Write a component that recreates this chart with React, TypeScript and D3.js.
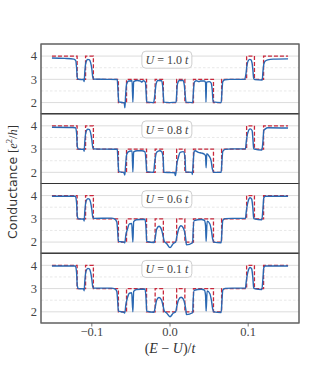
import React from 'react';
import * as d3 from 'd3';

const W = 332;
const H = 369;

const X_TICKS = [-0.1, 0.0, 0.1];
const X_TICK_LABELS = ['\u22120.1', '0.0', '0.1'];
const Y_TICKS = [2, 3, 4];
const Y_MINOR = [2.5, 3.5];
const U_LABELS = ['1.0', '0.8', '0.6', '0.1'];

// ideal (dashed red) step conductance: breakpoints and levels
const RED_X = [-0.151, -0.1188, -0.108, -0.098, -0.066, -0.0556, -0.030, -0.019, -0.0085, 0.0085, 0.019, 0.030, 0.0556, 0.066, 0.098, 0.108, 0.1197, 0.151];
const RED_G = [4, 3, 4, 3, 2, 3, 2, 3, 2, 3, 2, 3, 2, 3, 4, 3, 4];

const BLUE_U10: [number, number][] = [
  [-0.151, 3.92], [-0.135, 3.9], [-0.123, 3.87], [-0.1205, 3.8], [-0.1195, 3.5], [-0.1185, 3.05], [-0.117, 3.0],
  [-0.1105, 2.99], [-0.1098, 2.9], [-0.109, 3.3], [-0.108, 3.65], [-0.1065, 3.82], [-0.105, 3.86], [-0.103, 3.84],
  [-0.1015, 3.72], [-0.1, 3.45], [-0.0988, 3.1], [-0.0975, 3.01], [-0.08, 3.0], [-0.0675, 2.99], [-0.0665, 2.5],
  [-0.0655, 2.03], [-0.06, 2.0], [-0.0585, 1.98], [-0.0577, 1.78], [-0.0568, 2.3], [-0.0555, 2.8], [-0.053, 2.93],
  [-0.0485, 2.94], [-0.0475, 2.02], [-0.0465, 2.9], [-0.042, 2.95], [-0.0375, 2.92], [-0.0365, 2.88], [-0.034, 2.94],
  [-0.0315, 2.88], [-0.0305, 2.4], [-0.0298, 2.03], [-0.021, 2.0], [-0.0195, 2.3], [-0.0178, 2.8], [-0.0155, 2.95],
  [-0.011, 2.94], [-0.0095, 2.75], [-0.0085, 2.3], [-0.0078, 2.02], [0.0, 2.0], [0.0078, 2.02], [0.0085, 2.35],
  [0.0095, 2.8], [0.012, 2.95], [0.0165, 2.95], [0.0183, 2.75], [0.0195, 2.3], [0.0205, 2.02], [0.029, 2.0],
  [0.03, 2.5], [0.0312, 2.88], [0.0335, 2.94], [0.037, 2.9], [0.039, 2.93], [0.044, 2.93], [0.0455, 2.85],
  [0.046, 2.02], [0.0468, 2.88], [0.05, 2.9], [0.0525, 2.85], [0.054, 2.55], [0.0552, 2.03], [0.0655, 2.0],
  [0.0665, 2.5], [0.0675, 2.9], [0.07, 2.98], [0.076, 3.0], [0.0955, 3.0], [0.097, 3.2], [0.0985, 3.6],
  [0.1, 3.8], [0.102, 3.86], [0.1035, 3.84], [0.105, 3.7], [0.106, 3.4], [0.107, 3.05], [0.1085, 2.99],
  [0.118, 2.97], [0.1188, 3.3], [0.12, 3.65], [0.1215, 3.78], [0.125, 3.84], [0.132, 3.87], [0.151, 3.88],
];

const BLUE_U08: [number, number][] = [
  [-0.151, 3.94], [-0.125, 3.93], [-0.121, 3.92], [-0.1195, 3.7], [-0.1185, 3.1], [-0.117, 3.0], [-0.1105, 2.99],
  [-0.1098, 2.91], [-0.109, 3.3], [-0.108, 3.65], [-0.1065, 3.82], [-0.105, 3.86], [-0.103, 3.84], [-0.1015, 3.7],
  [-0.1, 3.4], [-0.0988, 3.08], [-0.0975, 3.01], [-0.0675, 2.99], [-0.0665, 2.5], [-0.0655, 2.03], [-0.059, 1.99],
  [-0.0578, 1.88], [-0.0568, 2.3], [-0.0555, 2.75], [-0.0535, 2.88], [-0.05, 2.92], [-0.0485, 2.92], [-0.0475, 2.02],
  [-0.0465, 2.88], [-0.042, 2.93], [-0.036, 2.93], [-0.032, 2.88], [-0.0305, 2.4], [-0.0298, 2.03], [-0.021, 2.0],
  [-0.0195, 2.45], [-0.0171, 2.86], [-0.013, 2.93], [-0.0105, 2.88], [-0.0088, 2.6], [-0.0078, 2.0], [0.0, 1.99],
  [0.006, 1.98], [0.0068, 1.86], [0.0076, 1.97], [0.0085, 2.3], [0.0107, 2.64], [0.013, 2.86], [0.0171, 2.89],
  [0.0192, 2.64], [0.0201, 2.02], [0.028, 2.0], [0.0286, 1.91], [0.0295, 2.35], [0.031, 2.9], [0.0321, 2.93],
  [0.0363, 2.86], [0.0406, 2.83], [0.044, 2.78], [0.0455, 2.7], [0.0462, 2.2], [0.047, 2.8], [0.05, 2.7],
  [0.0526, 2.49], [0.0543, 2.13], [0.0556, 2.0], [0.0654, 2.0], [0.0665, 2.5], [0.0675, 2.9], [0.0705, 2.99],
  [0.079, 3.01], [0.0965, 3.01], [0.0975, 3.3], [0.0995, 3.7], [0.1025, 3.87], [0.105, 3.8], [0.106, 3.45],
  [0.107, 3.04], [0.108, 3.0], [0.1175, 2.96], [0.1188, 3.3], [0.12, 3.8], [0.122, 3.87], [0.125, 3.92], [0.151, 3.91],
];

const BLUE_U06: [number, number][] = [
  [-0.151, 3.97], [-0.121, 3.97], [-0.1195, 3.7], [-0.1185, 3.1], [-0.117, 3.0], [-0.1105, 2.99], [-0.1098, 2.91],
  [-0.109, 3.3], [-0.108, 3.65], [-0.1065, 3.82], [-0.105, 3.87], [-0.103, 3.84], [-0.1015, 3.7], [-0.1, 3.4],
  [-0.0988, 3.08], [-0.0975, 3.02], [-0.075, 3.03], [-0.0705, 2.99], [-0.068, 2.86], [-0.067, 2.5], [-0.066, 2.03],
  [-0.059, 2.0], [-0.0578, 1.97], [-0.0565, 2.3], [-0.0545, 2.55], [-0.052, 2.78], [-0.049, 2.8], [-0.0475, 2.0],
  [-0.0465, 2.88], [-0.043, 2.96], [-0.032, 2.98], [-0.0305, 2.5], [-0.0298, 2.03], [-0.0205, 1.98], [-0.0192, 2.12],
  [-0.0171, 2.55], [-0.0141, 2.68], [-0.0107, 2.52], [-0.0085, 2.2], [-0.0072, 2.03], [-0.0043, 1.94], [0.0, 1.76],
  [0.0043, 1.94], [0.0072, 2.0], [0.0085, 2.2], [0.0107, 2.52], [0.0141, 2.7], [0.0171, 2.6], [0.0192, 2.35],
  [0.0205, 2.03], [0.021, 1.88], [0.029, 1.97], [0.0295, 2.4], [0.031, 2.93], [0.04, 2.97], [0.044, 2.93],
  [0.0455, 2.7], [0.0462, 2.03], [0.0475, 2.9], [0.051, 2.78], [0.053, 2.49], [0.0545, 2.14], [0.056, 2.0],
  [0.0654, 1.97], [0.0665, 2.5], [0.0675, 2.93], [0.0705, 3.01], [0.08, 3.02], [0.0965, 3.02], [0.0975, 3.3],
  [0.0995, 3.7], [0.1025, 3.91], [0.1045, 3.85], [0.106, 3.45], [0.107, 3.04], [0.108, 3.0], [0.1175, 2.96],
  [0.1188, 3.4], [0.12, 3.9], [0.122, 3.97], [0.151, 3.97],
];

const BLUE_U01: [number, number][] = [
  [-0.151, 3.97], [-0.121, 3.97], [-0.1195, 3.7], [-0.1185, 3.1], [-0.117, 3.0], [-0.1105, 2.99], [-0.1098, 2.91],
  [-0.109, 3.3], [-0.108, 3.65], [-0.1065, 3.82], [-0.105, 3.87], [-0.103, 3.84], [-0.1015, 3.7], [-0.1, 3.4],
  [-0.0988, 3.08], [-0.0975, 3.02], [-0.075, 3.02], [-0.0705, 2.99], [-0.068, 2.88], [-0.067, 2.5], [-0.066, 2.03],
  [-0.059, 1.98], [-0.0578, 1.95], [-0.0565, 2.3], [-0.0545, 2.6], [-0.052, 2.8], [-0.049, 2.82], [-0.0475, 2.0],
  [-0.0465, 2.88], [-0.043, 2.96], [-0.032, 2.98], [-0.0305, 2.5], [-0.0298, 2.03], [-0.0205, 1.98], [-0.0192, 2.15],
  [-0.0171, 2.5], [-0.0141, 2.62], [-0.0107, 2.5], [-0.0085, 2.2], [-0.0072, 2.03], [-0.0043, 1.95], [0.0, 1.79],
  [0.0043, 1.95], [0.0072, 2.0], [0.0085, 2.2], [0.0107, 2.5], [0.0141, 2.63], [0.0171, 2.55], [0.0192, 2.3],
  [0.0205, 2.03], [0.021, 1.88], [0.029, 1.96], [0.0295, 2.4], [0.031, 2.93], [0.04, 2.97], [0.044, 2.93],
  [0.0455, 2.7], [0.0462, 2.03], [0.0475, 2.9], [0.051, 2.78], [0.053, 2.49], [0.0545, 2.14], [0.056, 2.0],
  [0.0654, 1.97], [0.0665, 2.5], [0.0675, 2.93], [0.0705, 3.01], [0.08, 3.02], [0.0965, 3.02], [0.0975, 3.3],
  [0.0995, 3.7], [0.1025, 3.91], [0.1045, 3.85], [0.106, 3.45], [0.107, 3.04], [0.108, 3.0], [0.1175, 2.96],
  [0.1188, 3.4], [0.12, 3.9], [0.122, 3.97], [0.151, 3.97],
];

const BLUE_SERIES = [BLUE_U10, BLUE_U08, BLUE_U06, BLUE_U01];

const PLOT_L = 41;
const PLOT_R = 299;
const PLOT_T = 44;
const PLOT_B = 323;
const N = 4;
const PH = (PLOT_B - PLOT_T) / N;

const SERIF = '"Liberation Serif", "DejaVu Serif", serif';
const BLUE = '#2a68b2';
const RED = '#c8283c';

export default function App() {
  const x = d3.scaleLinear().domain([-0.165, 0.165]).range([PLOT_L, PLOT_R]);
  const redPts: [number, number][] = RED_X.map((v, i) => [v, RED_G[Math.min(i, RED_G.length - 1)]]);

  return (
    <svg width={W} height={H} style={{ position: 'absolute', left: 0, top: 0, background: '#fff' }}>
      <rect x={0} y={0} width={W} height={H} fill="#fff" />
      <defs>
        {BLUE_SERIES.map((_, i) => {
          const top = PLOT_T + i * PH;
          return (
            <clipPath id={`clip${i}`} key={i}>
              <rect x={PLOT_L} y={top} width={PLOT_R - PLOT_L} height={PH} />
            </clipPath>
          );
        })}
      </defs>
      {BLUE_SERIES.map((series, i) => {
        const top = PLOT_T + i * PH;
        const y = d3.scaleLinear().domain([1.52, 4.52]).range([top + PH, top]);
        const blueLine = d3.line<[number, number]>().x(d => x(d[0])).y(d => y(d[1])).curve(d3.curveMonotoneX);
        const redLine = d3.line<[number, number]>().x(d => x(d[0])).y(d => y(d[1])).curve(d3.curveStepAfter);
        const cx = x(-0.004);
        const cy = top + 15.7;
        return (
          <g key={i}>
            {Y_MINOR.map(v => (
              <line key={`m${v}`} x1={PLOT_L} x2={PLOT_R} y1={y(v)} y2={y(v)} stroke="#e2e2e2" strokeWidth={0.8} strokeDasharray="2.5,2" />
            ))}
            {Y_TICKS.map(v => (
              <line key={`g${v}`} x1={PLOT_L} x2={PLOT_R} y1={y(v)} y2={y(v)} stroke="#dcdcdc" strokeWidth={1} />
            ))}
            {Y_TICKS.map(v => (
              <text key={`t${v}`} x={PLOT_L - 4} y={y(v)} dy="0.35em" textAnchor="end" fontFamily={SERIF} fontSize={12.5} fill="#444">
                {v}
              </text>
            ))}
            <g clipPath={`url(#clip${i})`}>
              <path d={redLine(redPts) || ''} fill="none" stroke={RED} strokeWidth={1.3} strokeDasharray="4,2" />
              <path d={blueLine(series) || ''} fill="none" stroke={BLUE} strokeWidth={1.4} />
            </g>
            <rect x={cx - 25} y={cy - 8.5} width={50} height={17} rx={4} fill="#fff" fillOpacity={0.85} stroke="#c8c8c8" strokeWidth={0.9} />
            <text x={cx} y={cy} dy="0.35em" textAnchor="middle" fontFamily={SERIF} fontSize={12} fill="#444">
              <tspan fontStyle="italic">U</tspan>
              {' = ' + U_LABELS[i] + ' '}
              <tspan fontStyle="italic">t</tspan>
            </text>
            <rect x={PLOT_L} y={top} width={PLOT_R - PLOT_L} height={PH} fill="none" stroke="#555" strokeWidth={1} />
          </g>
        );
      })}
      {[1, 2, 3].map(i => (
        <line key={`d${i}`} x1={PLOT_L} x2={PLOT_R} y1={PLOT_T + i * PH} y2={PLOT_T + i * PH} stroke="#333" strokeWidth={1.2} />
      ))}
      <rect x={PLOT_L} y={PLOT_T} width={PLOT_R - PLOT_L} height={PLOT_B - PLOT_T} fill="none" stroke="#666" strokeWidth={1} />
      {X_TICKS.map((v, k) => (
        <g key={`x${v}`}>
          <line x1={x(v)} x2={x(v)} y1={PLOT_B} y2={PLOT_B + 3.5} stroke="#555" strokeWidth={0.8} />
          <text x={x(v)} y={PLOT_B + 13} textAnchor="middle" fontFamily={SERIF} fontSize={12.5} fill="#444">
            {X_TICK_LABELS[k]}
          </text>
        </g>
      ))}
      <text x={170} y={353} textAnchor="middle" fontFamily={SERIF} fontSize={14} fill="#333">
        (<tspan fontStyle="italic">E</tspan> {'\u2212'} <tspan fontStyle="italic">U</tspan>)/<tspan fontStyle="italic">t</tspan>
      </text>
      <text transform="translate(17,182) rotate(-90)" textAnchor="middle" fontSize={12.5} fill="#333" fontFamily='"DejaVu Sans", sans-serif'>
        Conductance{' '}
        <tspan fontFamily={SERIF}>[</tspan>
        <tspan fontFamily={SERIF} fontStyle="italic">e</tspan>
        <tspan fontFamily={SERIF} fontSize={8.5} dy={-5}>2</tspan>
        <tspan fontFamily={SERIF} dy={5}>/</tspan>
        <tspan fontFamily={SERIF} fontStyle="italic">h</tspan>
        <tspan fontFamily={SERIF}>]</tspan>
      </text>
    </svg>
  );
}
